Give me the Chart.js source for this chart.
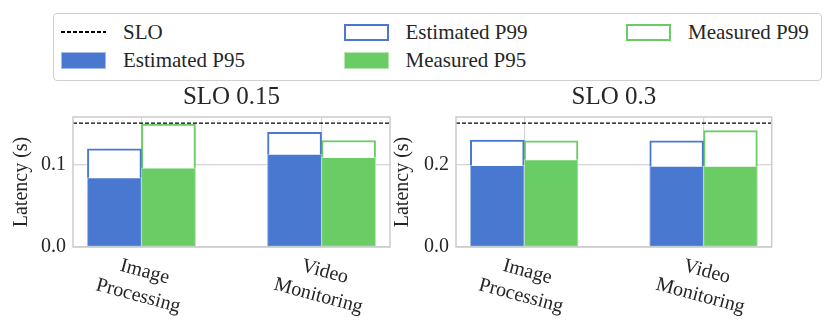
<!DOCTYPE html>
<html>
<head>
<meta charset="utf-8">
<script src="https://cdn.jsdelivr.net/npm/chart.js@4.4.1/dist/chart.umd.min.js"></script>
<style>
    body { margin: 0; width: 831px; height: 327px; position: relative; overflow: hidden; background: #fff; font-family: "Liberation Serif", serif; color: #262626; }
    .panel { position: absolute; top: 82px; height: 245px; }
    #p1 { left: 0; width: 392px; }
    #p2 { left: 385px; width: 446px; }
    #leyenda {
        position: absolute; left: 53px; top: 13px; width: 769px; height: 68px;
        box-sizing: border-box; border: 1.3px solid #d0d0d0; border-radius: 4px;
        display: grid; grid-auto-flow: column;
        grid-template-columns: 282.5px 282.5px auto; grid-template-rows: 28px 28px;
        padding: 4px 0 0 7px; font-size: 21px;
    }
    .item { display: flex; align-items: center; white-space: nowrap; }
    .marca { width: 45px; height: 17px; box-sizing: border-box; margin-right: 17px; flex: none; }
</style>
</head>
<body>
<div id="leyenda"></div>
<div class="panel" id="p1"><canvas id="chart1" width="392" height="245"></canvas></div>
<div class="panel" id="p2"><canvas id="chart2" width="446" height="245"></canvas></div>

<script>
// Datos
const categorias = [['Image', 'Processing'], ['Video', 'Monitoring']];
const titulos = ['SLO 0.15', 'SLO 0.3'];
const slo = [0.15, 0.3];

// Panel izquierdo (SLO 0.15)
const estP95_1 = [0.084, 0.1125];
const estP99_1 = [0.119, 0.139];
const medP95_1 = [0.096, 0.1085];
const medP99_1 = [0.149, 0.129];

// Panel derecho (SLO 0.3)
const estP95_2 = [0.198, 0.196];
const estP99_2 = [0.259, 0.257];
const medP95_2 = [0.212, 0.196];
const medP99_2 = [0.257, 0.282];

const ticksY_1 = [0, 0.1];
const ticksY_2 = [0, 0.2];
const maxY = [0.1575, 0.315];

const AZUL = '#4878d0';
const VERDE = '#6acc64';
const TEXTO = '#262626';
const FUENTE = '"Liberation Serif", serif';
const xMin = -0.38, xMax = 1.38, desplazamiento = 0.15;

// Barras colocadas a cada lado de la categoría
function puntos(valores, lado) {
    return valores.map((v, i) => ({ x: i + lado * desplazamiento, y: v }));
}

// Marco gris alrededor del área del gráfico
const marco = {
    id: 'marco',
    afterDatasetsDraw(chart) {
        const { ctx, chartArea: a } = chart;
        ctx.save();
        ctx.strokeStyle = '#cccccc';
        ctx.lineWidth = 1.5;
        ctx.strokeRect(a.left, a.top, a.right - a.left, a.bottom - a.top);
        ctx.restore();
    }
};

// Etiquetas del eje X giradas (dos líneas)
const etiquetasX = {
    id: 'etiquetasX',
    afterDraw(chart) {
        const { ctx, chartArea, scales: { x } } = chart;
        ctx.save();
        ctx.font = '20px ' + FUENTE;
        ctx.fillStyle = TEXTO;
        ctx.textAlign = 'center';
        ctx.textBaseline = 'middle';
        categorias.forEach((lineas, i) => {
            ctx.save();
            ctx.translate(x.getPixelForValue(i), chartArea.bottom + 37);
            ctx.rotate(15 * Math.PI / 180);
            lineas.forEach((t, j) => ctx.fillText(t, 0, (j - (lineas.length - 1) / 2) * 25));
            ctx.restore();
        });
        ctx.restore();
    }
};

function dibujarGrafica(id, n, est95, est99, med95, med99, ticksY, padding, tituloPad) {
    const ctx = document.getElementById(id).getContext('2d');
    const barra = { type: 'bar', grouped: false, barPercentage: 1, categoryPercentage: 1, borderSkipped: false };

    return new Chart(ctx, {
        type: 'bar',
        data: {
            datasets: [
                { type: 'line', label: 'SLO', data: [{ x: xMin, y: slo[n] }, { x: xMax, y: slo[n] }],
                  borderColor: '#000', borderWidth: 1.3, borderDash: [4, 2], pointRadius: 0, order: 0 },
                { ...barra, label: 'Estimated P95', data: puntos(est95, -1),
                  backgroundColor: AZUL, borderColor: 'rgba(255,255,255,0.5)', borderWidth: 1, order: 1 },
                { ...barra, label: 'Estimated P99', data: puntos(est99, -1),
                  backgroundColor: '#fff', borderColor: AZUL, borderWidth: 2, order: 2 },
                { ...barra, label: 'Measured P95', data: puntos(med95, 1),
                  backgroundColor: VERDE, borderColor: 'rgba(255,255,255,0.5)', borderWidth: 1, order: 1 },
                { ...barra, label: 'Measured P99', data: puntos(med99, 1),
                  backgroundColor: '#fff', borderColor: VERDE, borderWidth: 2, order: 2 }
            ]
        },
        options: {
            responsive: false,
            animation: false,
            devicePixelRatio: 1,
            layout: { padding: padding },
            scales: {
                x: {
                    type: 'linear', min: xMin, max: xMax, offset: false,
                    afterBuildTicks: s => { s.ticks = categorias.map((c, i) => ({ value: i })); },
                    ticks: { display: false },
                    grid: { color: '#d4d4d4', lineWidth: 1.2, drawTicks: false, offset: false },
                    border: { display: false }
                },
                y: {
                    min: 0, max: maxY[n],
                    afterBuildTicks: s => { s.ticks = ticksY.map(v => ({ value: v })); },
                    ticks: { callback: v => v.toFixed(1), font: { family: FUENTE, size: 20 }, color: TEXTO, padding: 7 },
                    grid: { color: '#d4d4d4', lineWidth: 1.2, drawTicks: false },
                    border: { display: false },
                    title: { display: true, text: 'Latency (s)', font: { family: FUENTE, size: 20 }, color: TEXTO, padding: tituloPad }
                }
            },
            plugins: {
                legend: { display: false },
                tooltip: { enabled: false },
                title: {
                    display: true, text: titulos[n], fullSize: false, color: TEXTO,
                    font: { family: FUENTE, size: 25, weight: 'normal' }, padding: { top: 0, bottom: 5 }
                }
            }
        },
        plugins: [marco, etiquetasX]
    });
}

// Leyenda en HTML, construida a partir de los datasets
function crearLeyenda(chart) {
    const cont = document.getElementById('leyenda');
    chart.data.datasets.forEach(ds => {
        const item = document.createElement('div');
        item.className = 'item';
        const marca = document.createElement('span');
        marca.className = 'marca';
        if (ds.type === 'line') {
            marca.style.height = '1.5px';
            marca.style.background = 'repeating-linear-gradient(to right, #000 0 4px, transparent 4px 6px)';
        } else if (ds.backgroundColor === '#fff') {
            marca.style.border = '2px solid ' + ds.borderColor;
        } else {
            marca.style.background = ds.backgroundColor;
            marca.style.border = '1px solid rgba(255,255,255,0.5)';
        }
        const txt = document.createElement('span');
        txt.textContent = ds.label;
        item.appendChild(marca);
        item.appendChild(txt);
        cont.appendChild(item);
    });
}

const g1 = dibujarGrafica('chart1', 0, estP95_1, estP99_1, medP95_1, medP99_1, ticksY_1,
    { left: 0, right: 2, top: 0, bottom: 80 }, { top: 9.5, bottom: 0.5 });
dibujarGrafica('chart2', 1, estP95_2, estP99_2, medP95_2, medP99_2, ticksY_2,
    { left: 0, right: 59.3, top: 0, bottom: 80 }, { top: 5.5, bottom: 2.5 });
crearLeyenda(g1);
</script>
</body>
</html>
